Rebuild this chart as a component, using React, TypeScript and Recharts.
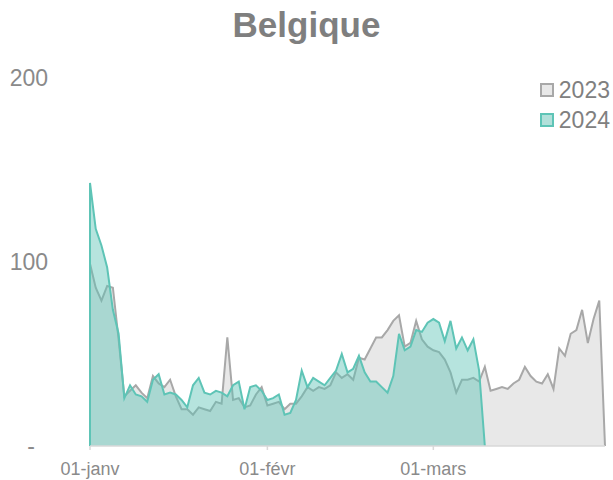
import { AreaChart, Area, XAxis, YAxis, ReferenceLine } from "recharts";

// index = day since 01-janv
const values2023 = [
  99, 86, 79, 87, 86, 58, 27, 30, 33, 29, 26, 38, 34, 32, 36, 27, 20, 20, 17, 21,
  20, 19, 24, 23, 59, 25, 26, 21, 22, 28, 32, 22, 23, 24, 20, 23, 23, 27, 32, 30,
  32, 31, 33, 40, 37, 39, 36, 48, 47, 53, 59, 59, 63, 68, 71, 54, 56, 68, 58, 54,
  52, 51, 47, 40, 29, 36, 36, 37, 35, 43, 30, 31, 32, 31, 34, 36, 43, 38, 35, 34,
  39, 31, 53, 49, 61, 63, 74, 56, 69, 79, 0,
];

const values2024 = [
  143, 118, 109, 97, 74, 61, 26, 33, 28, 27, 24, 36, 39, 28, 29, 28, 25, 21, 33, 37,
  29, 28, 30, 29, 27, 33, 35, 20, 32, 33, 30, 25, 26, 28, 17, 18, 25, 41, 32, 37,
  35, 33, 37, 41, 50, 40, 42, 49, 40, 35, 35, 32, 29, 38, 61, 52, 54, 63, 62, 67,
  69, 67, 57, 68, 53, 59, 52, 58, 41, 0,
];

const xTickDays = [0, 31, 60];
const xTickLabels = ["01-janv", "01-févr", "01-mars"];
const yTicks = [0, 100, 200];

const data = values2023.map((v, i) => ({
  day: i,
  y2023: v,
  y2024: i < values2024.length ? values2024[i] : null,
}));

const FONT = '"Liberation Sans", Arial, sans-serif';

const YTick = ({ x, y, payload }: any) => {
  const v = payload.value;
  if (v === 0) {
    return (
      <text x={x - 17} y={y} dy="0.35em" textAnchor="middle" fontSize={23} fill="#8a8a8a" fontFamily={FONT}>
        -
      </text>
    );
  }
  return (
    <text x={x} y={y} dy="0.35em" textAnchor="end" fontSize={23} fill="#8a8a8a" fontFamily={FONT}>
      {v}
    </text>
  );
};

const legendItems = [
  { name: "2023", fill: "#e8e8e8", border: "#a8a8a8" },
  { name: "2024", fill: "#b2e0da", border: "#5ec4b6" },
];

export default function App() {
  return (
    <div style={{ position: "absolute", left: 0, top: 0, width: 613, height: 480, background: "#fff" }}>
      <div
        style={{
          position: "absolute",
          top: 7,
          left: 0,
          width: 613,
          textAlign: "center",
          fontFamily: FONT,
          fontWeight: "bold",
          fontSize: 35,
          lineHeight: 1,
          color: "#7f7f7f",
        }}
      >
        Belgique
      </div>
      {/* legend kept outside the chart so it doesn't eat plot width */}
      <div style={{ position: "absolute", top: 75, right: 3, fontFamily: FONT, zIndex: 2 }}>
        {legendItems.map((item) => (
          <div key={item.name} style={{ display: "flex", alignItems: "center", height: 30, justifyContent: "flex-end" }}>
            <div
              style={{
                width: 10,
                height: 10,
                background: item.fill,
                border: `2px solid ${item.border}`,
                marginRight: 5,
              }}
            />
            <span style={{ fontSize: 23, color: "#808080" }}>{item.name}</span>
          </div>
        ))}
      </div>
      <AreaChart width={613} height={480} data={data} margin={{ top: 78, right: 8, bottom: 0, left: 0 }}>
        <XAxis
          dataKey="day"
          type="number"
          domain={[0, 90]}
          ticks={xTickDays}
          tickFormatter={(d: number) => xTickLabels[xTickDays.indexOf(d)]}
          height={34}
          stroke="#d9d9d9"
          strokeWidth={1.5}
          tickSize={4}
          tickMargin={12}
          tick={{ fontSize: 18, fill: "#8a8a8a", fontFamily: FONT }}
        />
        <YAxis
          type="number"
          domain={[0, 200]}
          ticks={yTicks}
          width={90}
          axisLine={false}
          tickLine={false}
          tickSize={0}
          tickMargin={42}
          tick={<YTick />}
        />
        <Area
          type="linear"
          dataKey="y2023"
          name="2023"
          stroke="#a8a8a8"
          strokeWidth={2}
          fill="#e8e8e8"
          fillOpacity={1}
          isAnimationActive={false}
          dot={false}
          activeDot={false}
        />
        <Area
          type="linear"
          dataKey="y2024"
          name="2024"
          stroke="#5ec4b6"
          strokeWidth={2}
          fill="#5ec4b6"
          fillOpacity={0.45}
          isAnimationActive={false}
          dot={false}
          activeDot={false}
        />
        <ReferenceLine
          segment={[
            { x: 0, y: 0 },
            { x: 0, y: values2024[0] },
          ]}
          stroke="#5ec4b6"
          strokeWidth={2}
        />
      </AreaChart>
    </div>
  );
}
